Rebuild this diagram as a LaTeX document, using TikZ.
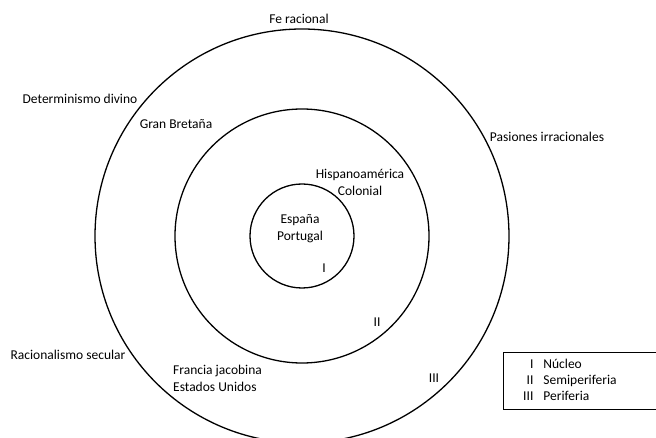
\documentclass[tikz,border=0pt]{standalone}
\usepackage{fontspec}
\setmainfont{Carlito}
\usetikzlibrary{positioning}
\tikzset{
  lbl/.style={inner sep=0pt, font=\fontsize{13.5}{17}\selectfont, align=center},
  ring/.style={line width=1.3pt},
}

\begin{document}
\begin{tikzpicture}[x=1pt,y=-1pt]
  \useasboundingbox (0,0) rectangle (656,438);
  \coordinate (c) at (302,236);
  \draw[ring] (c) circle (207pt);
  \draw[ring] (c) circle (127pt);
  \draw[ring] (c) circle (52pt);
  \node[lbl] (fe) at (299,19) {Fe racional};
  \node[lbl] (det) at (80,99) {Determinismo divino};
  \node[lbl] (gb) at (176,124) {Gran Bretaña};
  \node[lbl] (pas) at (547,137) {Pasiones irracionales};
  \node[lbl] (hisp) at (360,182) {Hispanoamérica\\Colonial};
  \node[lbl] (esp) at (300,229) {España\\Portugal};
  \node[lbl] (one) at (324,268) {I};
  \node[lbl] (two) at (377,322) {II};
  \node[lbl] (three) at (434,378) {III};
  \node[lbl] (rac) at (68,355) {Racionalismo secular};
  \node[lbl, align=left, anchor=west] (fr) at (173,378) {Francia jacobina\\Estados Unidos};
  \node[draw, line width=1.1pt, minimum width=153pt, minimum height=57pt,
        anchor=north west] (key) at (503,352) {};
  \node[lbl, anchor=west] (keytext) at ([xshift=20pt]key.west)
    {\def\arraystretch{0.95}\begin{tabular}{@{}r@{\hspace{10pt}}l@{}}
      I & Núcleo\\ II & Semiperiferia\\ III & Periferia
    \end{tabular}};
\end{tikzpicture}
\end{document}
